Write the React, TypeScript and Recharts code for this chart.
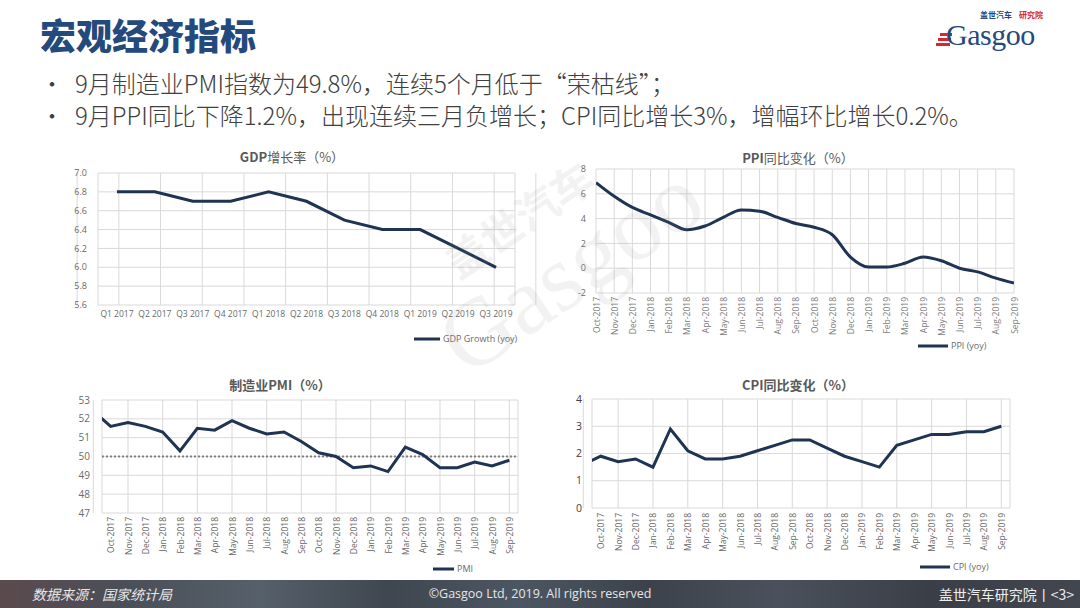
import React from 'react';
import { LineChart, Line, XAxis, YAxis, CartesianGrid, ReferenceLine, Legend } from 'recharts';

// ---------- data ----------
const gdpQuarters = ['Q1 2017', 'Q2 2017', 'Q3 2017', 'Q4 2017', 'Q1 2018', 'Q2 2018', 'Q3 2018', 'Q4 2018', 'Q1 2019', 'Q2 2019', 'Q3 2019'];
const gdpValues = [6.8, 6.8, 6.7, 6.7, 6.8, 6.7, 6.5, 6.4, 6.4, 6.2, 6.0];
const gdpTicks = [5.6, 5.8, 6.0, 6.2, 6.4, 6.6, 6.8, 7.0];

const months = ['Oct-2017', 'Nov-2017', 'Dec-2017', 'Jan-2018', 'Feb-2018', 'Mar-2018', 'Apr-2018', 'May-2018', 'Jun-2018', 'Jul-2018', 'Aug-2018', 'Sep-2018', 'Oct-2018', 'Nov-2018', 'Dec-2018', 'Jan-2019', 'Feb-2019', 'Mar-2019', 'Apr-2019', 'May-2019', 'Jun-2019', 'Jul-2019', 'Aug-2019', 'Sep-2019'];

const ppiValues = [6.9, 5.8, 4.9, 4.3, 3.7, 3.1, 3.4, 4.1, 4.7, 4.6, 4.1, 3.6, 3.3, 2.7, 0.9, 0.1, 0.1, 0.4, 0.9, 0.6, 0.0, -0.3, -0.8, -1.2];
const ppiTicks = [-2, 0, 2, 4, 6, 8];

// previous month (Sep-2017) value, partly visible at the left edge of the plot
const pmiPrev = 52.4;
const pmiValues = [51.6, 51.8, 51.6, 51.3, 50.3, 51.5, 51.4, 51.9, 51.5, 51.2, 51.3, 50.8, 50.2, 50.0, 49.4, 49.5, 49.2, 50.5, 50.1, 49.4, 49.4, 49.7, 49.5, 49.8];
const pmiTicks = [47, 48, 49, 50, 51, 52, 53];
const pmiThreshold = 50;

const cpiPrev = 1.6;
const cpiValues = [1.9, 1.7, 1.8, 1.5, 2.9, 2.1, 1.8, 1.8, 1.9, 2.1, 2.3, 2.5, 2.5, 2.2, 1.9, 1.7, 1.5, 2.3, 2.5, 2.7, 2.7, 2.8, 2.8, 3.0];
const cpiTicks = [0, 1, 2, 3, 4];

// ---------- style ----------
const LATIN = '"Open Sans", "Noto Sans", sans-serif';
const CJK = '"Noto Sans CJK SC", "Noto Sans", sans-serif';
const NAVY = '#1f3352';
const GRID = '#d9d9d9';
const TICK = '#6a6a6a';

const gdpData = gdpValues.map((v, i) => ({ i, v }));
const gdpIdx = gdpQuarters.map((_, i) => i);
const gdpGrid = gdpQuarters.map((_, i) => i - 0.5).concat([gdpQuarters.length - 0.5]);

const ppiData = ppiValues.map((v, i) => ({ i, v }));
const monthIdx = months.map((_, i) => i);
const monthGrid = months.map((_, i) => i - 0.5).concat([months.length - 0.5]);

const pmiData = [{ i: -1, v: pmiPrev }].concat(pmiValues.map((v, i) => ({ i, v })));
const cpiData = [{ i: -1, v: cpiPrev }].concat(cpiValues.map((v, i) => ({ i, v })));

const RotTick = (props: any) => {
  const { x, y, payload, fontSize = 9, fill = TICK } = props;
  return (
    <g transform={`translate(${x},${y})`}>
      <text transform="rotate(-90)" x={0} y={0} textAnchor="end" dominantBaseline="central" fontSize={fontSize} fill={fill} fontFamily={LATIN}>
        {months[payload.value]}
      </text>
    </g>
  );
};

const LegendLine = (props: any) => {
  const p = props.payload && props.payload[0];
  return (
    <div style={{ display: 'flex', alignItems: 'center', fontFamily: LATIN, fontSize: 9, color: TICK, whiteSpace: 'nowrap' }}>
      <svg width={props.len || 26} height={6} style={{ display: 'block' }}>
        <line x1={0} y1={3} x2={props.len || 26} y2={3} stroke={NAVY} strokeWidth={3} />
      </svg>
      <span style={{ marginLeft: 3 }}>{p ? p.value : ''}</span>
    </div>
  );
};

const Title = ({ left, top, width, children }: any) => (
  <div style={{ position: 'absolute', left, top, width, textAlign: 'center', fontFamily: CJK, fontSize: 13, color: '#595959', lineHeight: '16px' }}>
    {children}
  </div>
);

function GdpChart() {
  return (
    <div style={{ position: 'absolute', left: 20, top: 140, width: 520, height: 220 }}>
      <Title left={0} top={9} width={544}><b>GDP</b>增长率（%）</Title>
      <LineChart width={520} height={220} data={gdpData} margin={{ top: 33, right: 25, bottom: 30, left: 38 }}>
        <CartesianGrid xAxisId="g" stroke={GRID} strokeWidth={1} />
        <XAxis xAxisId="g" orientation="top" height={0} type="number" domain={[-0.5, gdpQuarters.length - 0.5]} allowDataOverflow ticks={gdpGrid} hide />
        <XAxis xAxisId="m" type="number" dataKey="i" domain={[-0.5, gdpQuarters.length - 0.5]} allowDataOverflow ticks={gdpIdx} interval={0}
          tickFormatter={(v: number) => gdpQuarters[v]} axisLine={false} tickLine={false} tickSize={0} tickMargin={6} height={25}
          tick={{ fontSize: 8.5, fill: TICK, fontFamily: LATIN }} />
        <YAxis type="number" domain={[5.6, 7.0]} ticks={gdpTicks} interval={0} tickFormatter={(v: number) => v.toFixed(1)} axisLine={false} tickLine={false}
          tickSize={0} tickMargin={11} width={40} tick={{ fontSize: 9, fill: TICK, fontFamily: LATIN }} />
        <Line xAxisId="m" type="linear" dataKey="v" name="GDP Growth (yoy)" stroke={NAVY} strokeWidth={3} dot={false} isAnimationActive={false} />
        <Legend layout="horizontal" verticalAlign="middle" align="center" content={<LegendLine len={26} />} wrapperStyle={{ top: 192, left: 394, width: 'auto' }} />
      </LineChart>
    </div>
  );
}

function PpiChart() {
  return (
    <div style={{ position: 'absolute', left: 550, top: 140, width: 520, height: 220 }}>
      <Title left={0} top={10} width={496}><b>PPI</b>同比变化（%）</Title>
      <LineChart width={520} height={220} data={ppiData} margin={{ top: 29, right: 56, bottom: 22, left: 16 }}>
        <CartesianGrid stroke={GRID} strokeWidth={1} />
        <XAxis type="number" dataKey="i" domain={[0, months.length - 1]} allowDataOverflow ticks={monthIdx} interval={0}
          axisLine={false} tickLine={false} tickSize={0} tickMargin={4} height={45} tick={<RotTick fontSize={8.5} fill="#7a7a7a" />} />
        <YAxis type="number" domain={[-2, 8]} ticks={ppiTicks} interval={0} axisLine={false} tickLine={false}
          tickSize={0} tickMargin={10} width={30} tick={{ fontSize: 9, fill: TICK, fontFamily: LATIN }} />
        <Line type="monotone" dataKey="v" name="PPI (yoy)" stroke={NAVY} strokeWidth={3} dot={false} isAnimationActive={false} />
        <Legend layout="horizontal" verticalAlign="middle" align="center" content={<LegendLine len={30} />} wrapperStyle={{ top: 199, left: 368, width: 'auto' }} />
      </LineChart>
    </div>
  );
}

function PmiChart() {
  return (
    <div style={{ position: 'absolute', left: 20, top: 370, width: 520, height: 210 }}>
      <Title left={0} top={7} width={520}><b>制造业PMI（%）</b></Title>
      <LineChart width={520} height={210} data={pmiData} margin={{ top: 30, right: 22, bottom: 22, left: 42 }}>
        <CartesianGrid xAxisId="g" stroke={GRID} strokeWidth={1} />
        <XAxis xAxisId="g" orientation="top" height={0} type="number" domain={[-0.5, months.length - 0.5]} allowDataOverflow ticks={monthGrid} hide />
        <XAxis xAxisId="m" type="number" dataKey="i" domain={[-0.5, months.length - 0.5]} allowDataOverflow ticks={monthIdx} interval={0}
          axisLine={false} tickLine={false} tickSize={0} tickMargin={4} height={45} tick={<RotTick fontSize={8.5} />} />
        <YAxis type="number" domain={[47, 53]} ticks={pmiTicks} interval={0} axisLine={false} tickLine={false}
          tickSize={0} tickMargin={12} width={40} tick={{ fontSize: 10, fill: TICK, fontFamily: LATIN }} />
        <ReferenceLine xAxisId="m" y={pmiThreshold} stroke="#808080" strokeWidth={2} strokeDasharray="2 2" />
        <Line xAxisId="m" type="linear" dataKey="v" name="PMI" stroke={NAVY} strokeWidth={3} dot={false} isAnimationActive={false} />
        <Legend layout="horizontal" verticalAlign="middle" align="center" content={<LegendLine len={21} />} wrapperStyle={{ top: 192, left: 413, width: 'auto' }} />
      </LineChart>
    </div>
  );
}

function CpiChart() {
  return (
    <div style={{ position: 'absolute', left: 550, top: 370, width: 520, height: 210 }}>
      <Title left={0} top={7} width={496}><b>CPI同比变化（%）</b></Title>
      <LineChart width={520} height={210} data={cpiData} margin={{ top: 29, right: 60, bottom: 22, left: 12 }}>
        <CartesianGrid xAxisId="g" stroke={GRID} strokeWidth={1} />
        <XAxis xAxisId="g" orientation="top" height={0} type="number" domain={[-0.5, months.length - 0.5]} allowDataOverflow ticks={monthGrid} hide />
        <XAxis xAxisId="m" type="number" dataKey="i" domain={[-0.5, months.length - 0.5]} allowDataOverflow ticks={monthIdx} interval={0}
          axisLine={false} tickLine={false} tickSize={0} tickMargin={5} height={50} tick={<RotTick fontSize={8.5} />} />
        <YAxis type="number" domain={[0, 4]} ticks={cpiTicks} interval={0} axisLine={false} tickLine={false}
          tickSize={0} tickMargin={10} width={30} tick={{ fontSize: 10.5, fill: '#404040', fontFamily: LATIN }} />
        <Line xAxisId="m" type="linear" dataKey="v" name="CPI (yoy)" stroke={NAVY} strokeWidth={3} dot={false} isAnimationActive={false} />
        <Legend layout="horizontal" verticalAlign="middle" align="center" content={<LegendLine len={30} />} wrapperStyle={{ top: 190, left: 370, width: 'auto' }} />
      </LineChart>
    </div>
  );
}

export default function App() {
  return (
    <div style={{ position: 'absolute', left: 0, top: 0, width: 1080, height: 608, background: '#ffffff', overflow: 'hidden', fontFamily: CJK }}>
      {/* header */}
      <div style={{ position: 'absolute', left: 40, top: 14, fontFamily: CJK, fontWeight: 900, fontSize: 36, lineHeight: '40px', color: '#24497c', letterSpacing: 0 }}>
        宏观经济指标
      </div>
      {/* logo */}
      <div style={{ position: 'absolute', left: 938, top: 12, width: 112, height: 36 }}>
        <div style={{ position: 'absolute', left: 42, top: -1, fontSize: 8, fontWeight: 700, color: '#24497c', fontFamily: CJK, lineHeight: '8px', whiteSpace: 'nowrap' }}>盖世汽车</div>
        <div style={{ position: 'absolute', left: 81, top: -1, fontSize: 8, fontWeight: 700, color: '#d7282f', fontFamily: CJK, lineHeight: '8px', whiteSpace: 'nowrap' }}>研究院</div>
        <div style={{ position: 'absolute', left: 2, top: 21, width: 12, height: 3, background: '#d7282f' }} />
        <div style={{ position: 'absolute', left: 0, top: 26, width: 13, height: 3, background: '#d7282f' }} />
        <div style={{ position: 'absolute', left: -2, top: 31, width: 14, height: 3, background: '#d7282f' }} />
        <div style={{ position: 'absolute', left: 8, top: 12, fontSize: 30, color: '#24497c', fontFamily: '"Liberation Serif", serif', lineHeight: '22px', letterSpacing: -0.5 }}>Gasgoo</div>
      </div>
      {/* bullets */}
      <div style={{ position: 'absolute', left: 40, top: 67, fontFamily: CJK, fontWeight: 300, fontSize: 24, lineHeight: '32px', color: '#404040' }}>
        <div style={{ display: 'flex' }}><span style={{ width: 35 }}>•</span><span>9月制造业PMI指数为49.8%，连续5个月低于“荣枯线”；</span></div>
        <div style={{ display: 'flex' }}><span style={{ width: 35 }}>•</span><span>9月PPI同比下降1.2%，出现连续三月负增长；CPI同比增长3%，增幅环比增长0.2%。</span></div>
      </div>

      <GdpChart />
      <PpiChart />
      <PmiChart />
      <CpiChart />

      {/* watermark */}
      <svg width={1080} height={608} style={{ position: 'absolute', left: 0, top: 0, pointerEvents: 'none' }}>
        <g transform="rotate(-34 540 290)" fill="#8a8a8a" opacity={0.1}>
          <text x={478} y={236} fontSize={42} fontWeight={700} fontFamily={CJK}>盖世汽车</text>
          <text x={430} y={322} fontSize={96} fontFamily='"Liberation Serif", serif'>Gasgoo</text>
        </g>
      </svg>

      {/* footer */}
      <div style={{ position: 'absolute', left: 0, top: 580, width: 1080, height: 28,
        background: 'linear-gradient(90deg, #5b4a4e 0%, #4a4f58 12%, #56606a 24%, #3f4650 36%, #4c5662 48%, #3c424b 60%, #4a515c 72%, #3a3f47 86%, #42464e 100%)' }}>
        <div style={{ position: 'absolute', left: 32, top: 5, fontSize: 14, fontStyle: 'italic', color: '#e6e6e6', fontFamily: CJK, lineHeight: '18px' }}>数据来源：国家统计局</div>
        <div style={{ position: 'absolute', left: 0, width: 1080, top: 6, textAlign: 'center', fontSize: 12.5, color: '#e6e6e6', fontFamily: LATIN, lineHeight: '16px' }}>©Gasgoo Ltd, 2019. All rights reserved</div>
        <div style={{ position: 'absolute', right: 6, top: 5, fontSize: 14, color: '#eeeeee', fontFamily: CJK, lineHeight: '18px' }}>盖世汽车研究院丨&lt;3&gt;</div>
      </div>
    </div>
  );
}
